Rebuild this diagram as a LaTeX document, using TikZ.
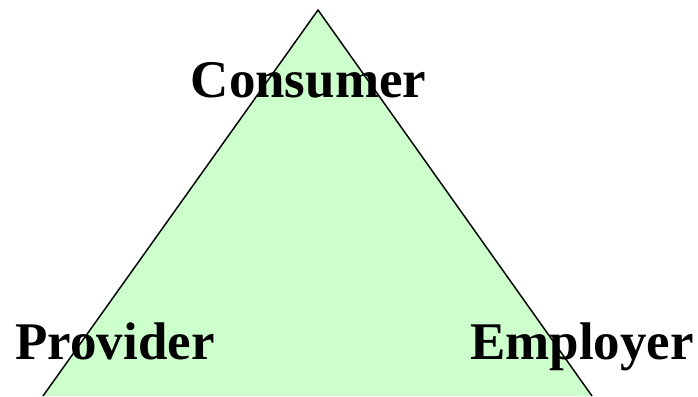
\documentclass[tikz,border=0pt]{standalone}
\usepackage{fontspec}
\setmainfont{Liberation Serif}
\usetikzlibrary{positioning}
\definecolor{paleGreen}{HTML}{CCFFCC}
\tikzset{
  roleLabel/.style={font=\fontsize{39.7}{46}\selectfont\bfseries, anchor=base, inner sep=0pt},
}

\begin{document}
\begin{tikzpicture}[x=0.75pt,y=-0.75pt]
    \useasboundingbox (0,0) rectangle (698,396);
    \clip (0,0) rectangle (698,396);
    % the triangle, base cut off by the page edge
    \coordinate (apex) at (318,10);
    \coordinate (leftFoot) at (43,396);
    \coordinate (rightFoot) at (592,396);
    \draw[fill=paleGreen,line width=1.1pt,line join=miter] (leftFoot) -- (apex) -- (rightFoot);
    % the three parties
    \node[roleLabel] (consumer) at (308.5,97) {Consumer};
    \node[roleLabel] (provider) at (115,359) {Provider};
    \node[roleLabel] (employer) at (582,359) {Employer};
\end{tikzpicture}
\end{document}
